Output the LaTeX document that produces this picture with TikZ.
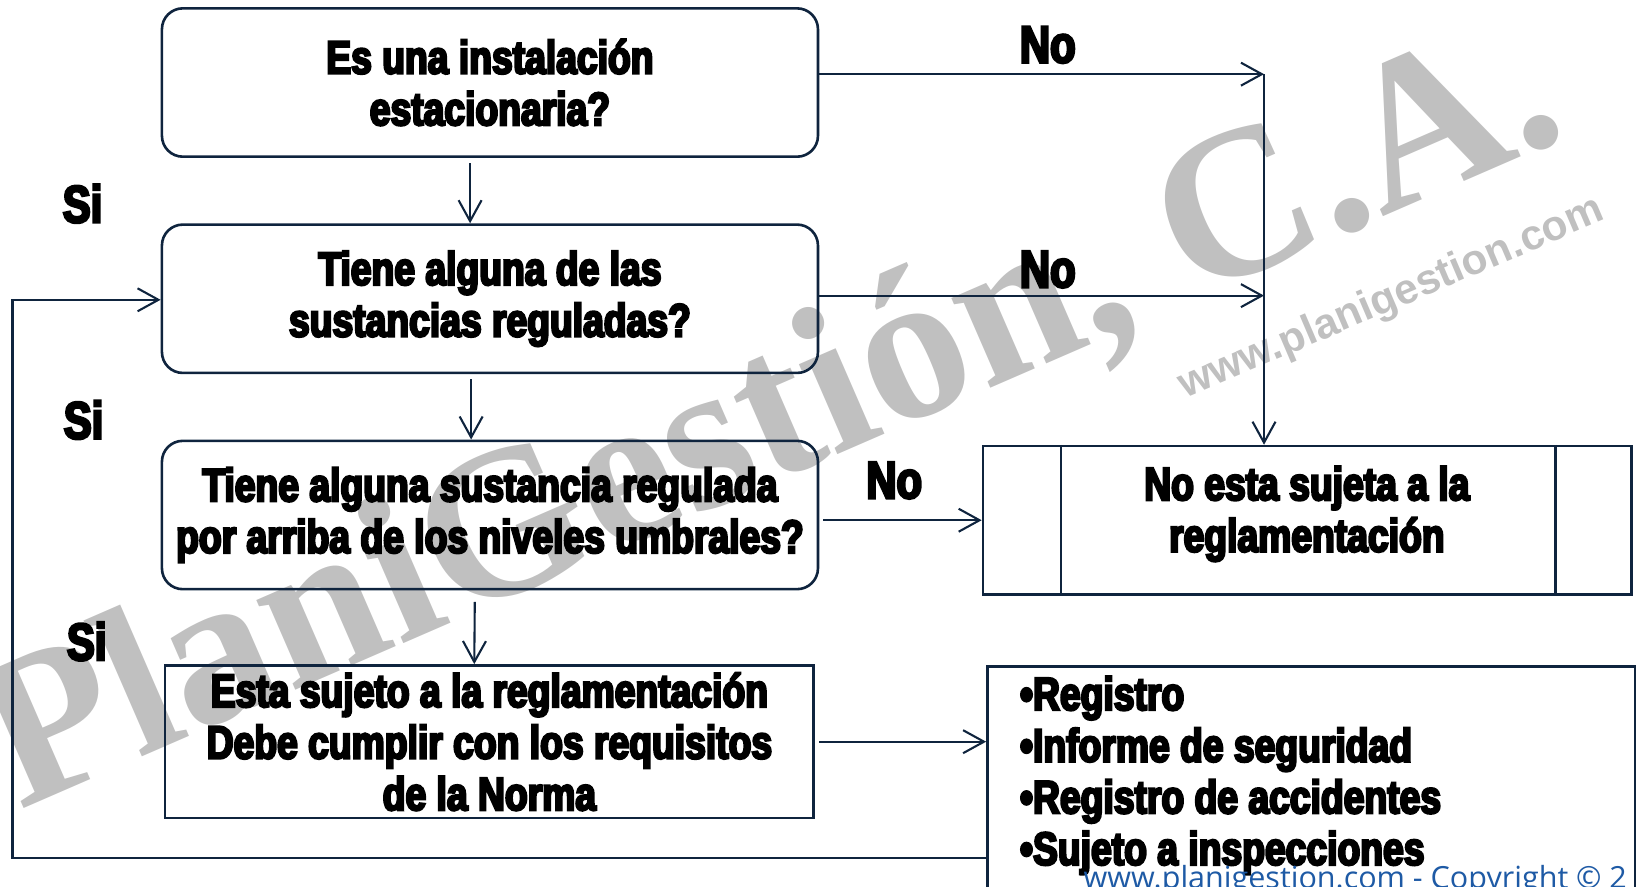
\documentclass[tikz,border=0pt]{standalone}
\usepackage{fontspec}
\setmainfont{Liberation Sans}
\newfontfamily\impfont{Liberation Sans Bold}[FakeStretch=0.8,FakeBold=5]
\newfontfamily\wmserif{Liberation Serif Bold}
\newfontfamily\wmsans{Liberation Sans Bold}
\newfontfamily\footfam{Open Sans}
\usetikzlibrary{arrows.meta}
\definecolor{navy}{RGB}{15,36,62}
\definecolor{wmgray}{RGB}{192,192,192}
\definecolor{footblue}{RGB}{30,90,165}
\begin{document}
\begin{tikzpicture}[x=0.5pt,y=-0.5pt,
  boxtext/.style={font=\impfont\fontsize{22.3}{24.7}\selectfont, align=center},
  conn/.style={draw=navy, line width=1pt, -{Straight Barb[length=10pt,width=11pt,line width=1pt]}},
  link/.style={draw=navy, line width=1pt},
  rbox/.style={draw=navy, line width=1.25pt, rounded corners=10pt, minimum width=314pt, minimum height=71pt, inner sep=0pt, boxtext},
  sbox/.style={draw=navy, line width=1.25pt, minimum width=310.5pt, minimum height=73pt, inner sep=0pt, boxtext},
  lbl/.style={font=\impfont\fontsize{25}{28}\selectfont, inner sep=0pt},
  wmbig/.style={font=\wmserif\fontsize{102}{120}\selectfont, text=wmgray, inner sep=0pt, anchor=base west, rotate=23.5},
  wmsmall/.style={font=\wmsans\fontsize{20.3}{24}\selectfont, text=wmgray, inner sep=0pt, anchor=base west, rotate=23.1}]
\useasboundingbox (0,0) rectangle (1568,849);
% watermark
\node[wmbig] (wm1) at (18,776) {PlaniGestión, C.A.};
\node[wmsmall] (wm2) at (1134,382) {www.planigestion.com};
% boxes
\node[rbox] (b1) at (469,79) {Es una instalación\\estacionaria?};
\node[rbox] (b2) at (469,286) {Tiene alguna de las\\sustancias reguladas?};
\node[rbox] (b3) at (469,493) {Tiene alguna sustancia regulada\\por arriba de los niveles umbrales?};
\node[sbox] (b4) at (468.5,710) {Esta sujeto a la reglamentación\\Debe cumplir con los requisitos\\de la Norma};
\node[sbox, minimum height=71pt] (b5) at (1251.5,498) {};
\node[boxtext, inner sep=0pt] (t5) at (1251,492) {No esta sujeta a la\\reglamentación};
\draw[link, line width=1.25pt] ([xshift=38pt]b5.north west) -- ([xshift=38pt]b5.south west);
\draw[link, line width=1.25pt] ([xshift=-37pt]b5.north east) -- ([xshift=-37pt]b5.south east);
\node[draw=navy, line width=1.25pt, minimum width=310pt, minimum height=120pt, inner sep=0pt, anchor=north west] (b6) at (944,637) {};
\node[boxtext, align=left, anchor=north west, inner sep=0pt] (list) at (976,647) {•Registro\\•Informe de seguridad\\•Registro de accidentes\\•Sujeto a inspecciones};
% labels
\node[lbl] (no1) at (1003,43) {No};
\node[lbl] (no2) at (1003,258) {No};
\node[lbl] (no3) at (856,460) {No};
\node[lbl] (si1) at (79,195) {Si};
\node[lbl] (si2) at (80,402) {Si};
\node[lbl] (si3) at (83,614) {Si};
% junction coordinates
\coordinate (j1) at (1210,71);
\coordinate (j2) at (1210,283);
\coordinate (f1) at (12,821);
\coordinate (f2) at (12,287);
% connectors
\draw[conn] ([xshift=-9.5pt,yshift=-2.5pt]b1.south) -- ([xshift=-9.5pt]b2.north);
\draw[conn] ([xshift=-9pt,yshift=-2.5pt]b2.south) -- ([xshift=-9pt]b3.north);
\draw[conn] ([xshift=-7.25pt,yshift=-5.5pt]b3.south) -- ([xshift=-7.25pt]b4.north);
\draw[conn] (b1.east |- j1) -- (j1);
\draw[conn] (b2.east |- j2) -- (j2);
\draw[conn] (j1) -- (j1 |- b5.north);
\draw[conn] ([xshift=2pt]b3.east |- b5.west) -- (b5.west);
\draw[conn] ([xshift=2pt]b4.east) -- (b4.east -| b6.west);
\draw[conn] (b6.west |- f1) -- (f1) -- (f2) -- (f2 -| b2.west);
% footer
\node[font=\footfam\fontsize{14.6}{18}\selectfont, text=footblue, inner sep=0pt, anchor=base west] (foot) at (1037,851) {www.planigestion.com - Copyright © 2};
\end{tikzpicture}
\end{document}
